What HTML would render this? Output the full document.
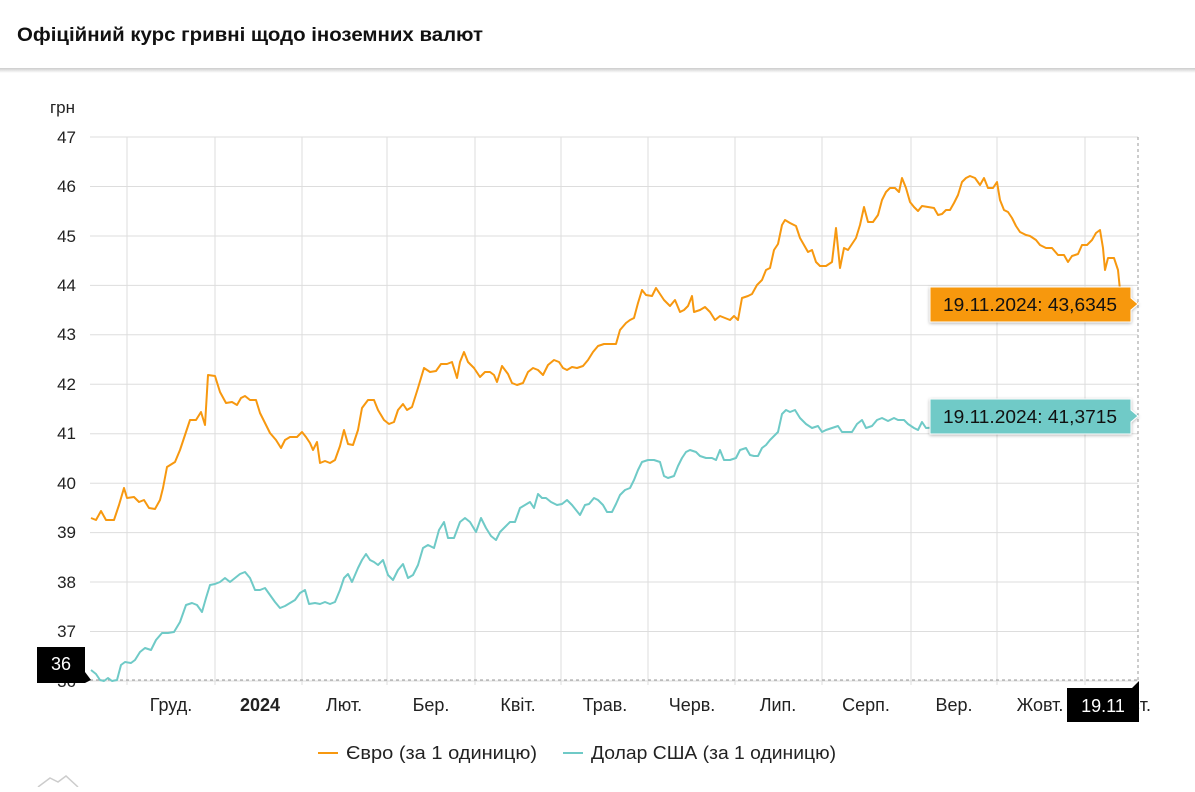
<!DOCTYPE html>
<html><head><meta charset="utf-8"><style>
body{margin:0;background:#fff;width:1195px;height:787px;overflow:hidden;font-family:"Liberation Sans",sans-serif}
</style></head><body>
<svg width="1195" height="787" xmlns="http://www.w3.org/2000/svg" font-family="Liberation Sans, sans-serif">
<defs><linearGradient id="sh" x1="0" y1="0" x2="0" y2="1"><stop offset="0" stop-color="#ccc"/><stop offset="1" stop-color="#fff"/></linearGradient>
<filter id="ds" x="-10%" y="-30%" width="120%" height="160%"><feDropShadow dx="0" dy="1" stdDeviation="1.5" flood-opacity="0.3"/></filter></defs>
<text x="17" y="41" font-size="19" font-weight="bold" fill="#111" textLength="466" lengthAdjust="spacingAndGlyphs">Офіційний курс гривні щодо іноземних валют</text>
<rect x="0" y="68" width="1195" height="5" fill="url(#sh)"/>
<text x="75" y="113" font-size="17" fill="#222" text-anchor="end">грн</text>
<g stroke="#ddd" stroke-width="1">
<line x1="90" y1="137" x2="1138" y2="137"/><line x1="90" y1="186.5" x2="1138" y2="186.5"/><line x1="90" y1="236" x2="1138" y2="236"/><line x1="90" y1="285.4" x2="1138" y2="285.4"/><line x1="90" y1="334.8" x2="1138" y2="334.8"/><line x1="90" y1="384.3" x2="1138" y2="384.3"/><line x1="90" y1="433.7" x2="1138" y2="433.7"/><line x1="90" y1="483.2" x2="1138" y2="483.2"/><line x1="90" y1="532.6" x2="1138" y2="532.6"/><line x1="90" y1="582" x2="1138" y2="582"/><line x1="90" y1="631.5" x2="1138" y2="631.5"/><line x1="90" y1="681" x2="1138" y2="681"/>
<line x1="127" y1="137" x2="127" y2="685"/><line x1="215" y1="137" x2="215" y2="685"/><line x1="302" y1="137" x2="302" y2="685"/><line x1="387" y1="137" x2="387" y2="685"/><line x1="475" y1="137" x2="475" y2="685"/><line x1="561" y1="137" x2="561" y2="685"/><line x1="648" y1="137" x2="648" y2="685"/><line x1="735" y1="137" x2="735" y2="685"/><line x1="822" y1="137" x2="822" y2="685"/><line x1="911" y1="137" x2="911" y2="685"/><line x1="997" y1="137" x2="997" y2="685"/><line x1="1085" y1="137" x2="1085" y2="685"/>
</g>
<line x1="1138" y1="137" x2="1138" y2="681" stroke="#999" stroke-dasharray="3,3"/>
<line x1="90" y1="680" x2="1138" y2="680" stroke="#999" stroke-dasharray="3,3"/>
<g font-size="17" fill="#222" text-anchor="end">
<text x="76" y="143">47</text><text x="76" y="192">46</text><text x="76" y="242">45</text><text x="76" y="291">44</text><text x="76" y="340">43</text><text x="76" y="390">42</text><text x="76" y="439">41</text><text x="76" y="489">40</text><text x="76" y="538">39</text><text x="76" y="588">38</text><text x="76" y="637">37</text><text x="76" y="687">36</text>
</g>
<g font-size="18" fill="#222" text-anchor="middle">
<text x="171" y="711">Груд.</text><text x="260" y="711" font-weight="bold">2024</text><text x="344" y="711">Лют.</text><text x="431" y="711">Бер.</text><text x="518" y="711">Квіт.</text><text x="605" y="711">Трав.</text><text x="692" y="711">Черв.</text><text x="778" y="711">Лип.</text><text x="866" y="711">Серп.</text><text x="954" y="711">Вер.</text><text x="1040" y="711">Жовт.</text><text x="1130" y="711">Лист.</text>
</g>
<polyline fill="none" stroke="#f7980f" stroke-width="2" stroke-linejoin="round" points="91,518 96,520 101,511 106,520 114,520 119,505 124,488 127,498 134,497 139,502 144,500 149,508 155,509 160,500 163,488 167,467 175,462 180,450 185,435 190,420 196,420 201,412 205,425 208,375 215,376 220,392 226,403 232,402 237,405 241,398 245,396 250,400 256,400 260,413 266,425 270,433 276,440 281,448 285,440 290,437 297,437 302,432 306,437 310,443 313,450 317,442 320,463 325,461 330,463 335,460 340,446 344,430 348,444 353,445 358,430 362,408 368,400 374,400 378,410 384,420 389,424 394,422 398,410 403,404 407,410 412,407 418,388 424,368 430,372 436,371 441,364 447,364 452,362 457,378 460,362 464,352 468,362 474,368 480,377 485,372 490,372 494,375 497,382 502,366 508,374 512,383 517,385 523,383 528,372 533,368 538,370 543,375 548,365 554,360 559,362 563,368 567,370 572,367 577,368 583,366 588,360 593,352 598,346 604,344 610,344 616,344 620,330 626,323 630,320 634,318 638,303 642,290 646,295 652,296 656,288 660,294 664,300 670,306 675,300 680,312 684,310 688,306 692,296 694,312 700,310 705,307 710,312 715,320 720,316 725,318 730,320 734,316 738,320 742,298 748,296 752,294 757,285 762,280 766,270 770,268 774,250 778,244 782,225 785,220 790,223 796,226 800,238 804,245 808,252 812,250 816,262 820,266 826,266 832,262 836,228 840,268 844,248 848,250 852,244 856,238 860,225 864,207 868,222 873,222 878,215 882,200 886,192 890,188 895,188 899,192 902,178 906,188 910,202 914,207 918,211 922,206 928,207 934,208 938,215 942,214 946,210 950,210 954,203 958,195 962,182 966,178 970,176 975,178 980,185 984,178 988,188 993,188 997,182 1000,200 1004,210 1008,212 1012,218 1016,226 1020,232 1026,235 1030,236 1036,240 1040,245 1046,248 1052,248 1058,255 1064,255 1068,262 1072,256 1078,254 1082,245 1087,245 1092,240 1096,233 1100,230 1103,248 1105,270 1108,258 1114,258 1118,270 1120,290 1124,300 1130,306 1138,303"/>
<polyline fill="none" stroke="#6fcac7" stroke-width="2" stroke-linejoin="round" points="91,670 96,674 100,680 104,681 108,678 112,681 117,680 121,665 125,662 131,663 135,660 140,652 145,648 151,650 156,640 162,633 168,633 174,632 180,622 186,605 192,603 197,605 202,612 206,598 210,585 215,584 220,582 225,578 230,582 235,578 240,574 245,572 250,578 255,590 260,590 265,588 270,595 275,602 280,608 285,606 290,603 295,600 300,593 305,590 309,604 315,603 320,604 325,602 330,604 335,602 340,590 344,578 348,574 352,582 358,568 362,560 366,554 370,560 374,562 378,565 383,560 388,575 393,580 398,570 403,564 408,578 413,575 418,565 423,548 428,545 434,548 439,530 444,522 448,538 454,538 460,522 465,518 470,522 476,532 481,518 486,528 491,536 496,540 500,532 505,527 510,522 515,522 520,508 525,505 530,502 534,508 538,494 542,498 546,498 551,502 557,505 562,504 567,500 572,505 576,510 580,515 585,505 589,504 594,498 598,500 603,505 607,512 612,512 616,504 620,495 625,490 630,488 634,480 638,470 642,462 648,460 654,460 660,462 664,476 668,478 674,476 678,466 682,458 686,452 690,450 696,452 700,456 706,458 712,458 716,460 720,450 724,460 730,460 736,458 740,450 746,448 750,455 754,456 758,456 762,448 766,445 770,440 774,436 778,432 782,414 786,410 790,412 795,410 800,418 806,424 812,428 818,426 822,432 826,430 832,428 838,426 842,432 846,432 852,432 857,424 862,420 866,428 872,426 877,420 882,418 888,421 894,418 898,420 904,420 908,424 914,428 918,430 922,422 926,428 1000,424 1100,418 1138,415"/>
<g filter="url(#ds)">
<path d="M930,287 H1131 V298 L1138,304 L1131,310 V322 H930 Z" fill="#f7980f" stroke="#fff" stroke-width="1"/>
<path d="M930,399 H1131 V410 L1138,416 L1131,422 V434 H930 Z" fill="#6fcac7" stroke="#fff" stroke-width="1"/>
</g>
<text x="943" y="311" font-size="18" fill="#111" textLength="174" lengthAdjust="spacingAndGlyphs">19.11.2024: 43,6345</text>
<text x="943" y="423" font-size="18" fill="#111" textLength="174" lengthAdjust="spacingAndGlyphs">19.11.2024: 41,3715</text>
<path d="M37,647 H85 V672 L91,680 L85,683 H37 Z" fill="#000"/>
<text x="61" y="670" font-size="18" fill="#fff" text-anchor="middle">36</text>
<path d="M1067,688 H1132 L1139,681 V722 H1067 Z" fill="#000"/>
<text x="1103" y="712" font-size="18" fill="#fff" text-anchor="middle">19.11</text>
<line x1="318" y1="753" x2="338" y2="753" stroke="#f7980f" stroke-width="2"/>
<text x="346" y="759" font-size="18" fill="#222" textLength="191" lengthAdjust="spacingAndGlyphs">Євро (за 1 одиницю)</text>
<line x1="563" y1="753" x2="583" y2="753" stroke="#6fcac7" stroke-width="2"/>
<text x="591" y="759" font-size="18" fill="#222" textLength="245" lengthAdjust="spacingAndGlyphs">Долар США (за 1 одиницю)</text>
<path d="M38,787 L50,778 L58,782 L66,776 L78,787" fill="none" stroke="#ccc" stroke-width="1.5"/>
</svg>
</body></html>
